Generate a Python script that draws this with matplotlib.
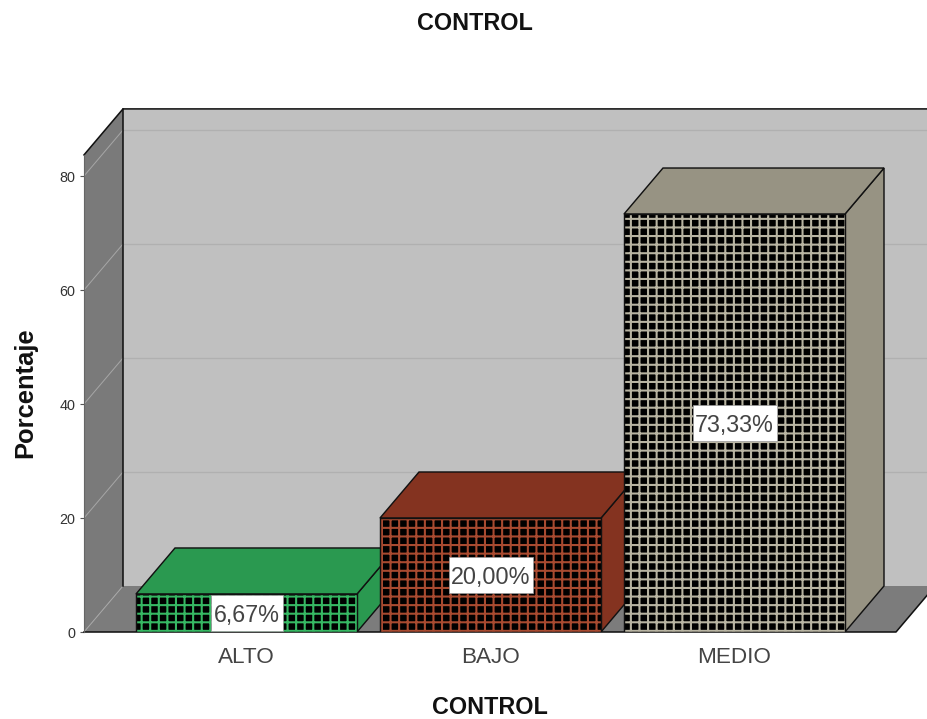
import matplotlib
matplotlib.use("Agg")
import matplotlib.pyplot as plt
from matplotlib.patches import Rectangle

categories = ["ALTO", "BAJO", "MEDIO"]
values = [6.67, 20.00, 73.33]
value_labels = ["6,67%", "20,00%", "73,33%"]
colors = ["#2A9950", "#843320", "#979383"]
hatch_colors = ["#36B863", "#A84A30", "#B8B4A2"]
yticks = [0, 20, 40, 60, 80]

W, H, DPI = 927, 719, 103
FS = 108 / DPI
plt.rcParams["font.family"] = ["Liberation Sans", "DejaVu Sans"]
plt.rcParams["hatch.linewidth"] = 1.45

fig = plt.figure(figsize=(W / DPI, H / DPI), dpi=DPI, facecolor="white")
L, R, T, B = 84, 927, 108, 632
ax = fig.add_axes([L / W, 1 - B / H, (R - L) / W, (B - T) / H])

PX_X, PX_Y = 244.0, 5.7
x0 = (L - 246.5) / PX_X
ax.set_xlim(x0, x0 + (R - L) / PX_X)
ax.set_ylim(0, (B - T) / PX_Y)
dx, dy = 39 / PX_X, 46 / PX_Y
ymax = 83.7
xright = x0 + (896 - L) / PX_X
bw = 221 / PX_X
ax.patch.set_visible(False)
for s in ["top", "right", "bottom"]:
    ax.spines[s].set_visible(False)
ax.spines["left"].set_bounds(0, ymax)
ax.spines["left"].set_color("#666666")
ax.spines["left"].set_zorder(3.5)

edge = "#111111"
# back wall
ax.fill([x0 + dx, xright + dx + 1, xright + dx + 1, x0 + dx],
        [dy, dy, ymax + dy, ymax + dy], fc="#C0C0C0", ec="none", clip_on=False, zorder=1)
# left wall
ax.fill([x0, x0 + dx, x0 + dx, x0], [0, dy, ymax + dy, ymax],
        fc="#7A7A7A", ec="none", clip_on=False, zorder=2)
# floor
ax.fill([x0, xright, xright + dx, x0 + dx], [0, 0, dy, dy],
        fc="#7C7C7C", ec="none", clip_on=False, zorder=2)
# gridlines
for v in yticks:
    if v > 0:
        ax.plot([x0 + dx, xright + dx], [v + dy, v + dy], color="#B0B0B0", lw=0.9, zorder=3)
    ax.plot([x0, x0 + dx], [v, v + dy], color="#A6A6A6", lw=0.7, zorder=3)
# frame edges
ax.plot([x0, x0 + dx, xright + dx + 1], [ymax, ymax + dy, ymax + dy], color=edge, lw=1.1, zorder=3.2, clip_on=False)
ax.plot([x0 + dx, x0 + dx], [dy, ymax + dy], color=edge, lw=1.1, zorder=3.2)
ax.plot([x0, xright, xright + dx], [0, 0, dy], color=edge, lw=1.1, zorder=3.2, clip_on=False)

z = 4
for i, (v, c) in enumerate(zip(values, colors)):
    xl, xr = i - bw / 2, i + bw / 2
    ax.fill([xr, xr + dx, xr + dx, xr], [0, dy, v + dy, v], fc=c, ec=edge, lw=1.0, zorder=z)
    ax.fill([xl, xr, xr + dx, xl + dx], [v, v, v + dy, v + dy], fc=c, ec=edge, lw=1.0, zorder=z)
    ax.bar(i, v, width=bw, facecolor="black", edgecolor=hatch_colors[i], hatch="++", lw=0, zorder=z + 0.1)
    ax.bar(i, v, width=bw, fill=False, edgecolor=edge, lw=1.0, zorder=z + 0.2)
    bwid, bhei = (12 * len(value_labels[i]) + 12) / PX_X, 36 / PX_Y
    ax.add_patch(Rectangle((i - bwid / 2, v / 2 - bhei / 2), bwid, bhei, fc="white", ec="#999999",
                           lw=0.5, zorder=z + 0.4))
    ax.annotate(value_labels[i], (i, v / 2), xytext=(0, -1.5), textcoords="offset points",
                ha="center", va="center", fontsize=15.6 * FS, color="#444444", zorder=z + 0.5)
    z += 1

ax.set_xticks(range(len(categories)), categories)
ax.set_yticks(yticks)
ax.tick_params(axis="x", length=0, pad=10 * FS, labelsize=15.0 * FS, labelcolor="#444444")
ax.tick_params(axis="y", length=3, width=0.8, color="#555555", pad=3, labelsize=9.6 * FS, labelcolor="#333333")

fig.text(475 / W, 1 - 23.5 / H, "CONTROL", ha="center", va="center", fontsize=15.6 * FS, fontweight="bold", color="#111111")
fig.text(490 / W, 1 - 707.5 / H, "CONTROL", ha="center", va="center", fontsize=15.6 * FS, fontweight="bold", color="#111111")
fig.text(25 / W, 1 - 393 / H, "Porcentaje", rotation=90, ha="center", va="center", fontsize=17 * FS, fontweight="bold", color="#111111")

fig.savefig("out.png", dpi=DPI, facecolor="white")
